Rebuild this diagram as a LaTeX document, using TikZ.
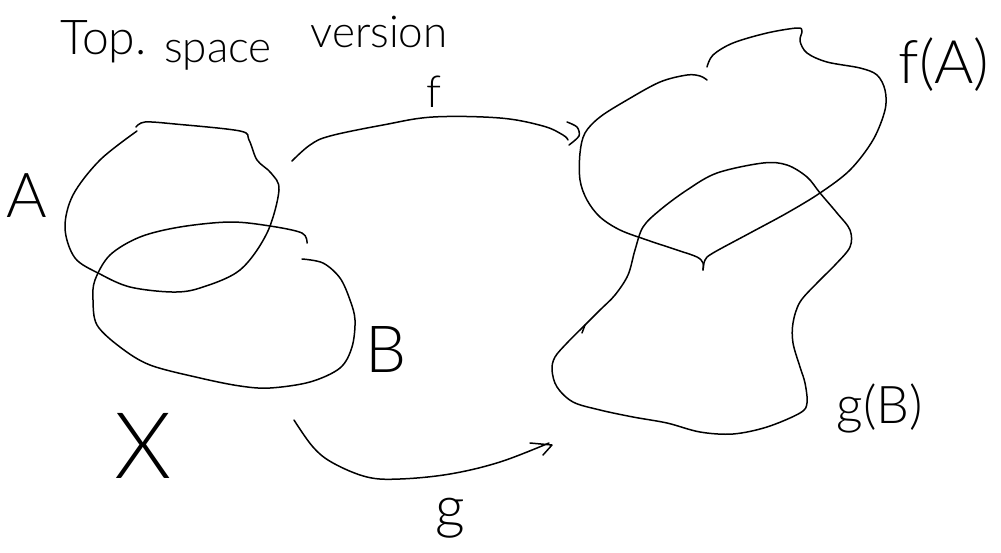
\documentclass[tikz,border=0pt]{standalone}
\usepackage{fontspec}
\IfFontExistsTF{Lato Light}{\newfontfamily\hand{Lato Light}}{\newfontfamily\hand{Lato}}
\begin{document}
\begin{tikzpicture}[x=1pt,y=-1pt,
  sketch/.style={draw=black, line width=1.5pt, line cap=round, line join=round},
  lbl/.style={inner sep=0pt, font=\hand}]
\useasboundingbox (0,0) rectangle (1001,552);

% title
\node[lbl, anchor=base west, font=\hand\fontsize{48}{48}\selectfont] (t1) at (60,54) {Top.};
\node[lbl, anchor=base, font=\hand\fontsize{44}{44}\selectfont] (t2) at (218,62) {space};
\node[lbl, anchor=base, font=\hand\fontsize{44}{44}\selectfont] (t3) at (379,47) {version};

% set A
\draw[sketch] plot[smooth, tension=0.55] coordinates {(137,131) (100,160) (73,195) (65,228) (75,258) (100,274) (130,287) (172,292) (200,288) (240,270) (267,233) (279,190) (271,173) (257,160) (249,140) (240,131) (175,124) (145,122) (136,127)};
% set B
\draw[sketch] plot[smooth, tension=0.55] coordinates {(307,243) (302,233) (270,226) (230,222) (180,227) (140,237) (110,255) (95,280) (93,300) (97,325) (120,347) (150,365) (200,378) (240,386) (270,388) (310,382) (340,368) (352,347) (355,320) (350,300) (340,278) (323,263) (302,259)};

% map f
\draw[sketch] plot[smooth, tension=0.6] coordinates {(292,161) (310,145) (330,136) (383,125) (433,117) (500,118) (543,126) (563,135) (568,140)};
\draw[sketch] plot[smooth] coordinates {(567,122) (577,127) (579,136) (569,145)};

% image f(A)
\draw[sketch] plot[smooth, tension=0.55] coordinates {(707,80) (700,76) (687,75) (660,82) (627,100) (600,117) (585,133) (580,153) (580,180) (587,200) (600,217) (620,230) (647,240) (677,250) (697,257) (703,263) (703,270)};
\draw[sketch] plot[smooth, tension=0.55] coordinates {(703,270) (705,260) (713,253) (750,233) (787,213) (820,193) (850,170) (873,140) (885,110) (885,90) (877,75) (860,68) (827,62) (807,53) (800,41) (802,31) (797,28) (767,33) (733,43) (713,55) (707,67)};

% image g(B)
\draw[sketch] plot[smooth, tension=0.55] coordinates {(583,327) (600,310) (615,295) (628,275) (635,250) (643,227) (660,210) (687,190) (717,173) (763,163) (787,165) (807,177) (820,193) (837,213) (850,230) (850,247) (835,265) (818,282) (800,302) (793,323) (793,343) (800,367) (805,383) (807,403) (800,413) (767,427) (733,434) (700,432) (667,423) (633,417) (600,410) (573,402) (557,387) (552,370) (555,357) (567,343) (583,327)};
\draw[sketch] (585,325) -- (582,333);

% map g
\draw[sketch] plot[smooth, tension=0.6] coordinates {(294,420) (313,447) (333,463) (367,477) (400,479) (450,474) (500,462) (549,443)};
\draw[sketch] (530,443) -- (552,445) -- (543,455);

% labels
\node[lbl, font=\hand\fontsize{62}{62}\selectfont] (lA) at (27,196) {A};
\node[lbl, font=\hand\fontsize{65}{65}\selectfont] (lB) at (386,349) {B};
\node[lbl, font=\hand\fontsize{92}{92}\selectfont] (lX) at (143,446) {X};
\node[lbl, font=\hand\fontsize{44}{44}\selectfont] (lf) at (434,92) {f};
\node[lbl, font=\hand\fontsize{60}{60}\selectfont] (lfA) at (944,65) {f(A)};
\node[lbl, font=\hand\fontsize{52}{52}\selectfont] (lgB) at (880,408) {g(B)};
\node[lbl, font=\hand\fontsize{58}{58}\selectfont] (lg) at (450,518) {g};
\end{tikzpicture}
\end{document}
